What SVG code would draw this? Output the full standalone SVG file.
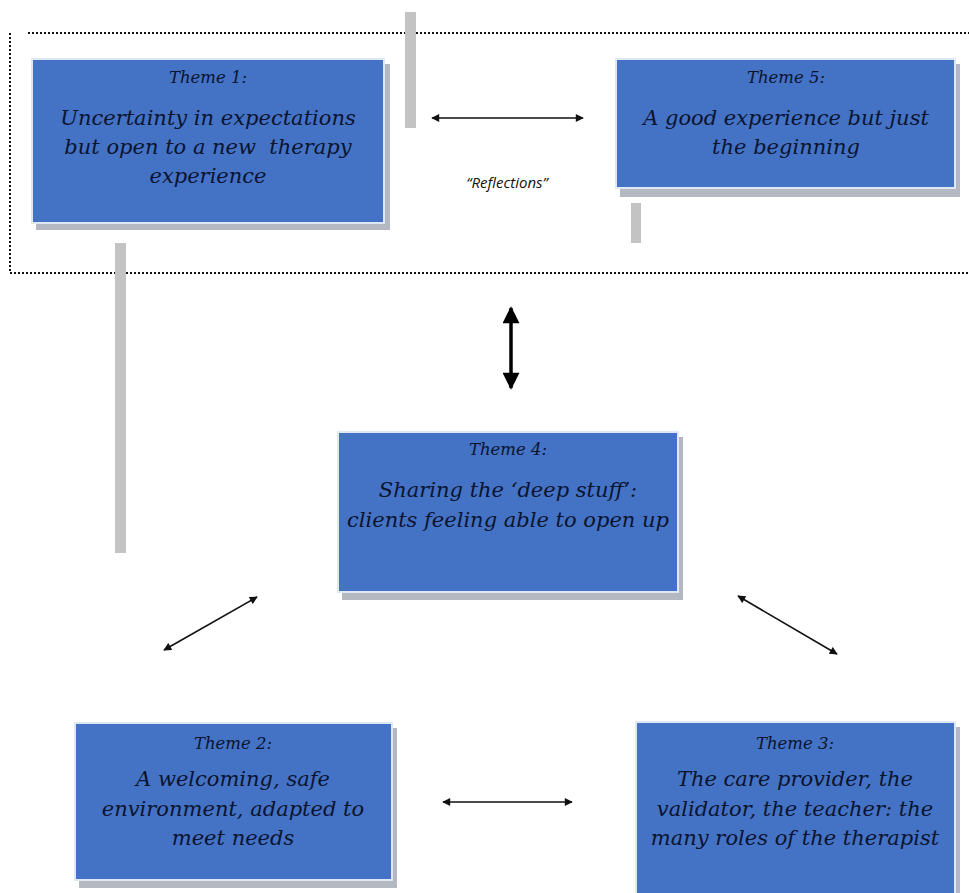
<svg xmlns="http://www.w3.org/2000/svg" width="969" height="893" viewBox="0 0 969 893">
  <style>
    .box { fill: #4472C4; stroke: #dfe7f5; stroke-width: 2; }
    .shadow { fill: #b4b8c0; }
    .title { font-family: "DejaVu Serif", "Liberation Serif", serif; font-style: italic; font-size: 16.5px; fill: #0b1430; text-anchor: middle; }
    .body { font-family: "DejaVu Serif", "Liberation Serif", serif; font-style: italic; font-size: 21px; fill: #0b1430; text-anchor: middle; }
    .note { font-family: "Open Sans", "Liberation Sans", sans-serif; font-style: italic; font-size: 15px; fill: #111; text-anchor: middle; }
    .bar { fill: #c3c3c3; }
    .dots { stroke: #111; stroke-width: 2; stroke-dasharray: 2 2; fill: none; }
    .conn { stroke: #111; stroke-width: 1.6; fill: none; marker-start: url(#ah); marker-end: url(#ah); }
    .thick { stroke: #000; stroke-width: 3.5; fill: none; marker-start: url(#bh); marker-end: url(#bh); }
  </style>
  <defs>
    <marker id="ah" viewBox="0 0 10 10" refX="9" refY="5" markerWidth="9" markerHeight="8" markerUnits="userSpaceOnUse" orient="auto-start-reverse">
      <path d="M0,0 L10,5 L0,10 z" fill="#111"/>
    </marker>
    <marker id="bh" viewBox="0 0 10 10" refX="9" refY="5" markerWidth="18" markerHeight="17" markerUnits="userSpaceOnUse" orient="auto-start-reverse">
      <path d="M0,0 L10,5 L0,10 z" fill="#000"/>
    </marker>
  </defs>

  <rect width="969" height="893" fill="#ffffff"/>

  <!-- dotted frame "Reflections" -->
  <g id="frame">
    <line class="dots" x1="28" y1="33" x2="969" y2="33"/>
    <line class="dots" x1="10" y1="33" x2="10" y2="273"/>
    <line class="dots" x1="10" y1="273" x2="969" y2="273"/>
  </g>

  <!-- gray bars -->
  <g id="bars">
    <rect class="bar" x="405" y="12" width="11" height="116"/>
    <rect class="bar" x="631" y="203" width="10" height="40"/>
    <rect class="bar" x="115" y="243" width="11" height="310"/>
  </g>

  <g id="theme1">
    <rect class="shadow" x="36" y="64" width="354" height="166"/>
    <rect class="box" x="32" y="59" width="352" height="164"/>
    <text class="title" x="208" y="83">Theme 1:</text>
    <text class="body" x="208" y="125">Uncertainty in expectations</text>
    <text class="body" x="208" y="154" xml:space="preserve">but open to a new  therapy</text>
    <text class="body" x="208" y="183">experience</text>
  </g>

  <g id="theme5">
    <rect class="shadow" x="620" y="64" width="340" height="133"/>
    <rect class="box" x="616" y="59" width="339" height="129"/>
    <text class="title" x="786" y="83">Theme 5:</text>
    <text class="body" x="786" y="125">A good experience but just</text>
    <text class="body" x="786" y="154">the beginning</text>
  </g>

  <g id="reflections">
    <text class="note" x="507" y="188">“Reflections”</text>
  </g>

  <g id="theme4">
    <rect class="shadow" x="342" y="437" width="341" height="163"/>
    <rect class="box" x="338" y="432" width="340" height="160"/>
    <text class="title" x="508" y="455">Theme 4:</text>
    <text class="body" x="508" y="497">Sharing the ‘deep stuff’:</text>
    <text class="body" x="508" y="527">clients feeling able to open up</text>
  </g>

  <g id="theme2">
    <rect class="shadow" x="79" y="728" width="318" height="160"/>
    <rect class="box" x="75" y="723" width="317" height="157"/>
    <text class="title" x="233" y="749">Theme 2:</text>
    <text class="body" x="233" y="786">A welcoming, safe</text>
    <text class="body" x="233" y="816">environment, adapted to</text>
    <text class="body" x="233" y="845">meet needs</text>
  </g>

  <g id="theme3">
    <rect class="shadow" x="640" y="727" width="320" height="170"/>
    <rect class="box" x="636" y="722" width="319" height="175"/>
    <text class="title" x="795" y="749">Theme 3:</text>
    <text class="body" x="795" y="786">The care provider, the</text>
    <text class="body" x="795" y="816">validator, the teacher: the</text>
    <text class="body" x="795" y="845">many roles of the therapist</text>
  </g>

  <g id="connectors">
    <line class="conn" x1="432" y1="118" x2="583" y2="118"/>
    <line class="thick" x1="511" y1="308" x2="511" y2="388"/>
    <line class="conn" x1="164" y1="650" x2="257" y2="597"/>
    <line class="conn" x1="738" y1="596" x2="837" y2="654"/>
    <line class="conn" x1="443" y1="802" x2="572" y2="802"/>
  </g>
</svg>
